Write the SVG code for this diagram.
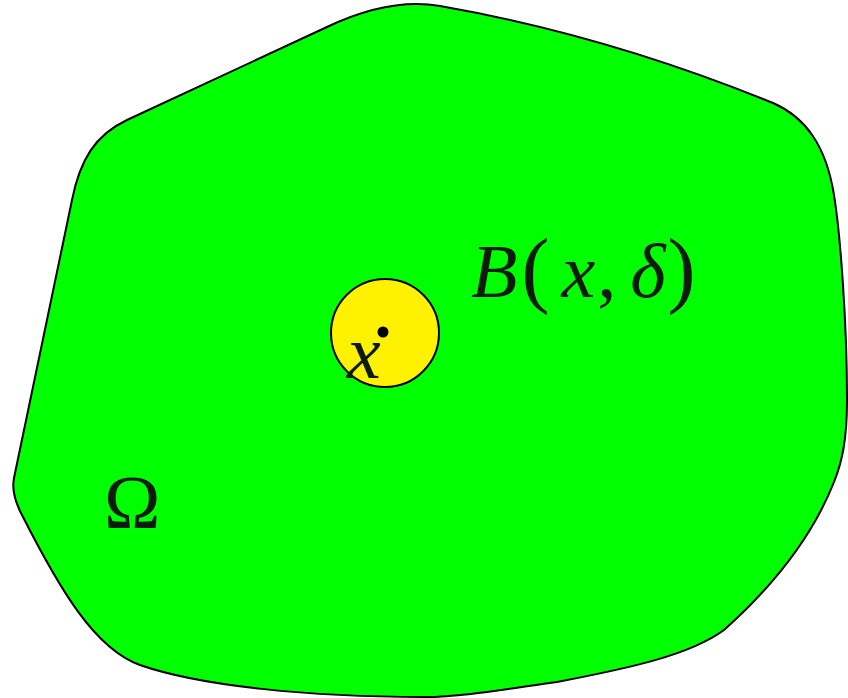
<svg xmlns="http://www.w3.org/2000/svg" width="848" height="698" viewBox="0 0 848 698">
<style>
.lbl{font-family:"Liberation Serif","DejaVu Serif",serif;font-size:76px;fill:#0c1c0c}
.it{font-style:italic}
</style>
<rect width="848" height="698" fill="#ffffff"/>
<g id="omega-region">
<path d="M 127,120 L 327,27 C 365,9 405,0 440,6 Q 606,35 773,103 C 805,117 826,145 834,195 C 840,232 847,320 847,400 C 847,440 842,462 834,482 C 815,530 780,580 724,630 C 690,655 630,668 557,682 C 500,690 460,697 424,697 C 310,697 200,686 140,665 C 95,649 60,590 22,515 C 14,500 12,488 14,478 L 72,200 C 80,160 95,135 127,120 Z" fill="#00ff00" stroke="#000000" stroke-width="2" stroke-linejoin="round"/>
<text class="lbl" x="104" y="528">Ω</text>
</g>
<g id="ball">
<circle cx="385" cy="333" r="54" fill="#fff200" stroke="#000000" stroke-width="2"/>
<circle cx="383" cy="332" r="5.5" fill="#000000"/>
<text class="lbl it" x="347" y="378">x</text>
</g>
<g id="ball-label">
<text class="lbl" x="471" y="297"><tspan class="it">B</tspan><tspan dx="4" font-size="84">(</tspan><tspan class="it" dx="12">x</tspan><tspan dx="2">,</tspan><tspan class="it" dx="14">δ</tspan><tspan dx="2" font-size="84">)</tspan></text>
</g>
<g id="connectors"></g>
</svg>
